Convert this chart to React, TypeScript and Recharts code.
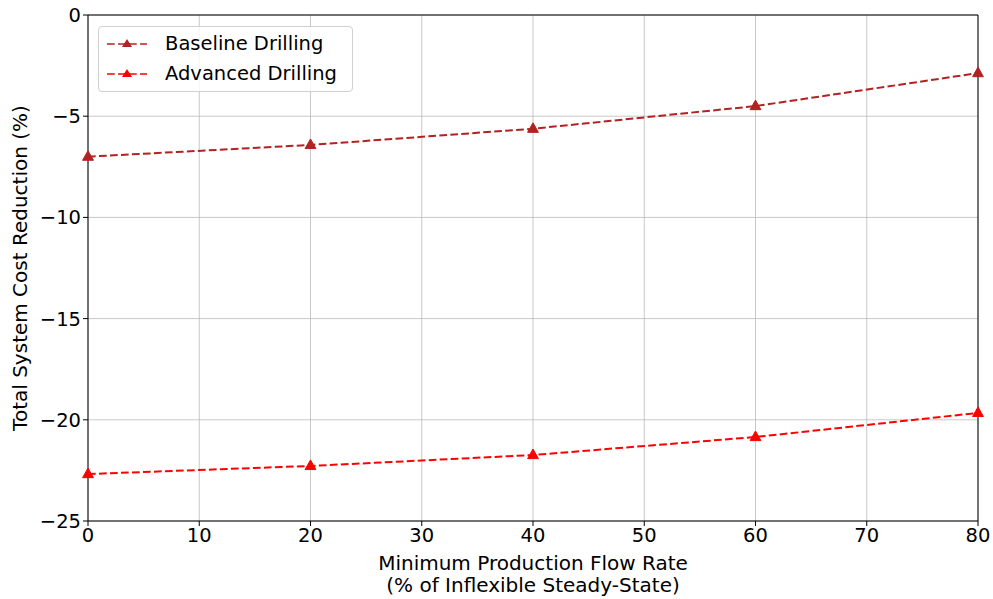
import React from 'react';
import { LineChart, Line, XAxis, YAxis, CartesianGrid, ReferenceLine } from 'recharts';

const flowRates = [0, 20, 40, 60, 80];
const baseline = [-7.0, -6.42, -5.62, -4.5, -2.87];
const advanced = [-22.68, -22.28, -21.74, -20.85, -19.66];
const xTicks = [0, 10, 20, 30, 40, 50, 60, 70, 80];
const yTicks = [-25, -20, -15, -10, -5, 0];
const seriesNames = ['Baseline Drilling', 'Advanced Drilling'];
const seriesColors = ['#b22222', '#ff0000'];

const data = flowRates.map((x, i) => ({ x, baseline: baseline[i], advanced: advanced[i] }));

const FONT = 'DejaVu Sans, sans-serif';
const FS = 19.5;
const DASH = '7.7 3.3';

const fmt = (v: number) => String(v).replace('-', '\u2212');

const Tri = (color: string) => (props: any) => {
  const { cx, cy } = props;
  if (cx == null || cy == null) return null;
  const s = 6;
  return (
    <path
      d={`M${cx},${cy - s} L${cx + s * 0.9},${cy + s * 0.6} L${cx - s * 0.9},${cy + s * 0.6} Z`}
      fill={color}
      stroke={color}
      strokeWidth={1}
    />
  );
};

const XLabel = (props: any) => {
  const vb = props.viewBox || {};
  const cx = vb.x + vb.width / 2;
  const y = vb.y;
  return (
    <text x={cx} textAnchor="middle" fontFamily={FONT} fontSize={FS + 0.5} fill="#000">
      <tspan x={cx} y={y + 49}>Minimum Production Flow Rate</tspan>
      <tspan x={cx} y={y + 71}>(% of Inflexible Steady-State)</tspan>
    </text>
  );
};

const LegendBox = () => (
  <div
    style={{
      position: 'absolute',
      left: 98,
      top: 26,
      border: '1px solid #d0d0d0',
      borderRadius: 4,
      background: 'rgba(255,255,255,0.8)',
      width: 255,
      height: 66,
      boxSizing: 'border-box',
      fontFamily: FONT,
      fontSize: FS,
      color: '#000',
      padding: '2px 0 0 8px',
      lineHeight: 1,
    }}
  >
    {seriesNames.map((n, i) => (
      <div key={n} style={{ display: 'flex', alignItems: 'center', height: 30 }}>
        <svg width={42} height={14} style={{ marginRight: 16 }}>
          <line x1={0} y1={7} x2={40} y2={7} stroke={seriesColors[i]} strokeWidth={1.6} strokeDasharray={DASH} />
          <path d={`M20,2 L25,10 L15,10 Z`} fill={seriesColors[i]} />
        </svg>
        <span>{n}</span>
      </div>
    ))}
  </div>
);

export default function App() {
  return (
    <div style={{ position: 'absolute', left: 0, top: 0, width: 993, height: 599, background: '#fff' }}>
      <LineChart width={993} height={599} data={data} margin={{ top: 15, right: 15, bottom: 0, left: 0 }}>
        <CartesianGrid stroke="#b0b0b0" strokeOpacity={0.7} strokeWidth={1} />
        <XAxis
          dataKey="x"
          type="number"
          domain={[0, 80]}
          ticks={xTicks}
          height={78}
          tickFormatter={fmt}
          stroke="#000"
          tickSize={5}
          tick={{ fontFamily: FONT, fontSize: FS, fill: '#000' }}
          label={<XLabel />}
          interval={0}
        />
        <YAxis
          type="number"
          domain={[-25, 0]}
          ticks={yTicks}
          width={88}
          tickFormatter={fmt}
          stroke="#000"
          tickSize={5}
          tick={{ fontFamily: FONT, fontSize: FS, fill: '#000' }}
          interval={0}
          label={{
            value: 'Total System Cost Reduction (%)',
            angle: -90,
            position: 'insideLeft',
            offset: 20,
            style: { fontFamily: FONT, fontSize: FS + 0.5, fill: '#000', textAnchor: 'middle' },
          }}
        />
        <ReferenceLine y={0} stroke="#000" strokeWidth={1} />
        <ReferenceLine x={80} stroke="#000" strokeWidth={1} />
        <Line
          dataKey="baseline"
          name={seriesNames[0]}
          stroke={seriesColors[0]}
          strokeWidth={2}
          strokeDasharray={DASH}
          dot={Tri(seriesColors[0])}
          activeDot={false}
          isAnimationActive={false}
        />
        <Line
          dataKey="advanced"
          name={seriesNames[1]}
          stroke={seriesColors[1]}
          strokeWidth={2}
          strokeDasharray={DASH}
          dot={Tri(seriesColors[1])}
          activeDot={false}
          isAnimationActive={false}
        />
      </LineChart>
      <LegendBox />
    </div>
  );
}
